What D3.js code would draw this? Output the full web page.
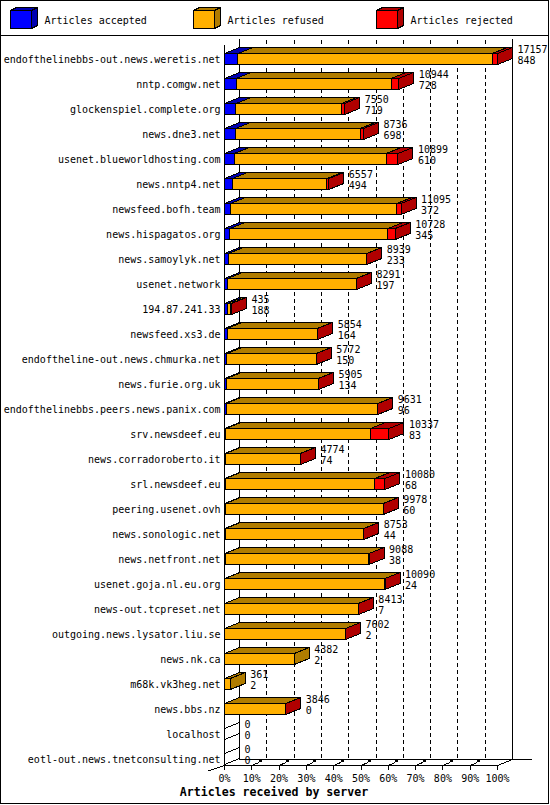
<!DOCTYPE html>
<html lang="en">
<head>
<meta charset="UTF-8">
<title>Articles received by server</title>
<script src="https://d3js.org/d3.v7.min.js"></script>
<style>
    body { margin: 0; background: #fff; }
    svg { display: block; }
    text { font-family: "DejaVu Sans Mono", monospace; font-size: 10px; fill: #000; }
    .title { font-weight: bold; font-size: 11.6px; }
</style>
</head>
<body>
<svg></svg>
<script>
    // servers, top to bottom
    const servers = [
        "endofthelinebbs-out.news.weretis.net", "nntp.comgw.net", "glockenspiel.complete.org",
        "news.dne3.net", "usenet.blueworldhosting.com", "news.nntp4.net", "newsfeed.bofh.team",
        "news.hispagatos.org", "news.samoylyk.net", "usenet.network", "194.87.241.33",
        "newsfeed.xs3.de", "endoftheline-out.news.chmurka.net", "news.furie.org.uk",
        "endofthelinebbs.peers.news.panix.com", "srv.newsdeef.eu", "news.corradoroberto.it",
        "srl.newsdeef.eu", "peering.usenet.ovh", "news.sonologic.net", "news.netfront.net",
        "usenet.goja.nl.eu.org", "news-out.tcpreset.net", "outgoing.news.lysator.liu.se",
        "news.nk.ca", "m68k.vk3heg.net", "news.bbs.nz", "localhost", "eotl-out.news.tnetconsulting.net"
    ];
    // printed totals and accepted counts
    const received = [17157, 10944, 7550, 8736, 10899, 6557, 11095, 10728, 8939, 8291, 435,
        5854, 5772, 5905, 9631, 10337, 4774, 10080, 9978, 8753, 9088, 10090, 8413, 7602,
        4382, 361, 3846, 0, 0];
    const accepted = [848, 728, 719, 698, 610, 494, 372, 345, 233, 197, 188,
        164, 150, 134, 96, 83, 74, 68, 60, 44, 38, 24, 7, 2,
        2, 2, 0, 0, 0];
    const refused = [15979, 9736, 6631, 7838, 9559, 5943, 10453, 9923, 8691, 8079, 197,
        5670, 5602, 5751, 9520, 9104, 4690, 9382, 9908, 8699, 9040, 10056, 8401, 7595,
        4380, 359, 3841, 0, 0];
    const rejected = [330, 480, 200, 200, 730, 120, 270, 460, 15, 15, 50,
        20, 20, 20, 15, 1150, 10, 630, 10, 10, 10, 10, 5, 5,
        0, 0, 5, 0, 0];
    const seriesNames = ["Articles accepted", "Articles refused", "Articles rejected"];
    const pctTicks = [0, 10, 20, 30, 40, 50, 60, 70, 80, 90, 100];

    const colors = ["#0000ff", "#ffb000", "#ff0000"];
    const darks = ["#0000b0", "#b07c00", "#b00000"];

    const W = 550, H = 805;
    const DX = 15, DY = -6;          // depth of the 3d box
    const FX0 = 224.5, FX1 = 497.5;  // front plane, 0% .. 100%
    const BOTTOM = 765.5;

    const svg = d3.select("svg").attr("width", W).attr("height", H)
        .attr("shape-rendering", "crispEdges");

    const x = d3.scaleLinear().domain([0, d3.max(received)]).range([FX0, FX1]);
    const pct = d3.scaleLinear().domain([0, 100]).range([FX0, FX1]);
    const y = d3.scaleBand().domain(servers).range([46.5, 771.5]);

    // frame + legend separator
    svg.append("rect").attr("x", 0.5).attr("y", 0.5).attr("width", 548).attr("height", 803)
        .attr("fill", "none").attr("stroke", "#000");
    svg.append("line").attr("x1", 0).attr("x2", 549).attr("y1", 35.5).attr("y2", 35.5).attr("stroke", "#000");

    // legend
    const leg = svg.selectAll(".leg").data(seriesNames).join("g")
        .attr("transform", (d, i) => `translate(${10.5 + i * 183},10.5)`);
    leg.append("polygon").attr("points", "0,0 21,0 27,-3 6,-3")
        .attr("fill", (d, i) => darks[i]).attr("stroke", "#000");
    leg.append("polygon").attr("points", "21,0 27,-3 27,15 21,18")
        .attr("fill", (d, i) => darks[i]).attr("stroke", "#000");
    leg.append("rect").attr("width", 21).attr("height", 18)
        .attr("fill", (d, i) => colors[i]).attr("stroke", "#000");
    leg.append("text").attr("x", 34).attr("y", 13.5).text(d => d);

    // back wall grid
    const grid = svg.append("g").attr("stroke", "#000");
    grid.selectAll(".gl").data(pctTicks.slice(1, -1)).join("line")
        .attr("x1", d => pct(d) + DX).attr("x2", d => pct(d) + DX)
        .attr("y1", 39.5).attr("y2", BOTTOM + DY)
        .attr("stroke-dasharray", "4,3");
    grid.append("line").attr("x1", FX0 + DX).attr("x2", FX0 + DX).attr("y1", 39).attr("y2", BOTTOM + DY);
    grid.append("line").attr("x1", FX1 + DX).attr("x2", FX1 + DX).attr("y1", 39).attr("y2", BOTTOM + DY);
    grid.append("line").attr("x1", FX0).attr("x2", FX0).attr("y1", 45).attr("y2", BOTTOM);
    grid.append("line").attr("x1", FX0 + DX).attr("x2", 531.5).attr("y1", BOTTOM + DY).attr("y2", BOTTOM + DY);
    grid.append("line").attr("x1", FX0).attr("x2", FX1).attr("y1", BOTTOM).attr("y2", BOTTOM);
    grid.append("line").attr("x1", FX1).attr("x2", FX1 + DX).attr("y1", BOTTOM).attr("y2", BOTTOM + DY);
    grid.append("line").attr("x1", 208).attr("x2", FX0).attr("y1", 771).attr("y2", BOTTOM);

    // x ticks
    grid.selectAll(".tk").data(pctTicks).join("line")
        .attr("x1", d => pct(d)).attr("x2", d => pct(d))
        .attr("y1", BOTTOM).attr("y2", BOTTOM + 4);
    grid.selectAll(".ts").data(pctTicks.slice(1, -1)).join("line")
        .attr("x1", d => pct(d)).attr("x2", d => pct(d) + 7)
        .attr("y1", BOTTOM).attr("y2", BOTTOM - 3);
    grid.selectAll(".tb").data(pctTicks.slice(1, -1)).join("rect")
        .attr("x", d => pct(d) + 7).attr("y", BOTTOM - 5.5)
        .attr("width", 3).attr("height", 2).attr("fill", "#000").attr("stroke", "none");
    svg.selectAll(".tl").data(pctTicks).join("text")
        .attr("x", d => pct(d)).attr("y", 782).attr("text-anchor", "middle").text(d => d + "%");

    svg.append("text").attr("class", "title").attr("x", 274).attr("y", 796)
        .attr("text-anchor", "middle").text("Articles received by server");

    // bars
    const rows = servers.map((s, i) => ({
        name: s, total: received[i], acc: accepted[i],
        parts: [accepted[i], refused[i], rejected[i]]
    }));

    const row = svg.selectAll(".row").data(rows).join("g");

    row.append("text").attr("x", 220.5).attr("y", d => y(d.name) + 16.5)
        .attr("text-anchor", "end").text(d => d.name);

    row.each(function (d) {
        const g = d3.select(this);
        const yt = y(d.name) + 7, yb = yt + 11;
        let cum = 0, last = -1;
        d.parts.forEach((v, k) => { if (v > 0) last = k; });
        d.parts.forEach((v, k) => {
            if (v <= 0) return;
            const a = x(cum), b = x(cum + v);
            cum += v;
            g.append("polygon")
                .attr("points", [[a, yt], [b, yt], [b + DX, yt + DY], [a + DX, yt + DY]].join(" "))
                .attr("fill", darks[k]).attr("stroke", "#000");
            g.append("rect").attr("x", a).attr("y", yt).attr("width", b - a).attr("height", yb - yt)
                .attr("fill", colors[k]).attr("stroke", "#000");
            if (k === last) {
                g.append("polygon")
                    .attr("points", [[b, yt], [b + DX, yt + DY], [b + DX, yb + DY], [b, yb]].join(" "))
                    .attr("fill", darks[k]).attr("stroke", "#000");
            }
        });
        if (last < 0) {
            g.append("polygon")
                .attr("points", [[FX0, yt], [FX0 + DX, yt + DY], [FX0 + DX, yb + DY], [FX0, yb]].join(" "))
                .attr("fill", "none").attr("stroke", "#000");
        }
        const lx = x(d.total) + DX + 5;
        g.append("text").attr("x", lx).attr("y", yt - 0.5).text(d.total);
        g.append("text").attr("x", lx).attr("y", yt + 10).text(d.acc);
    });
</script>
</body>
</html>
